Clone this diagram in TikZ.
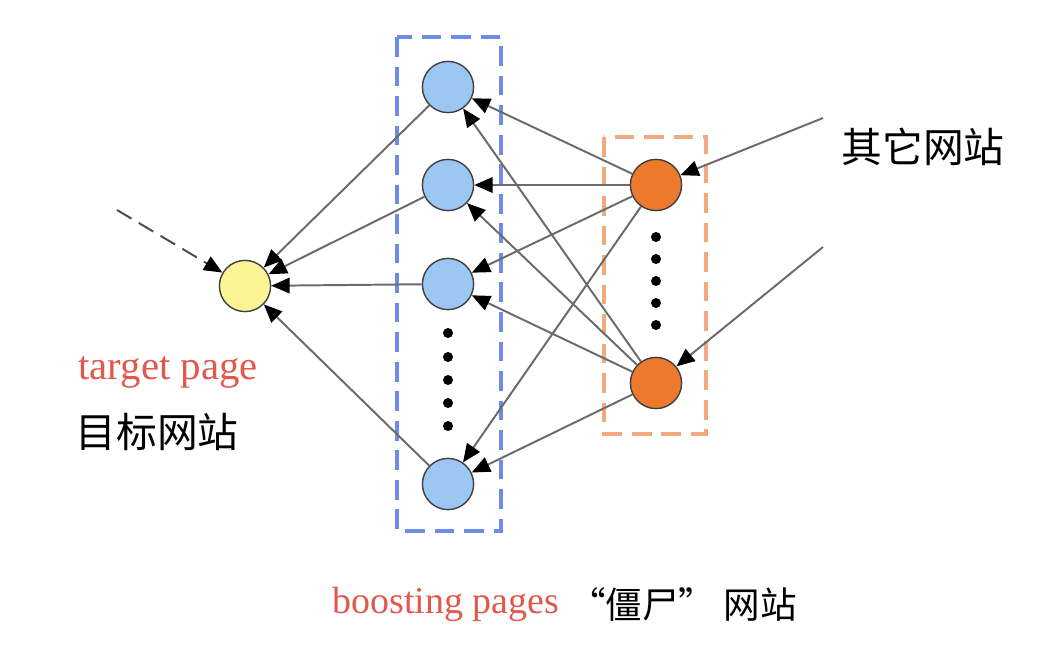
\documentclass[tikz,border=0pt]{standalone}
\usepackage{fontspec}
\setmainfont{Liberation Serif}
\newfontfamily\cjk{Noto Sans CJK SC}
\usetikzlibrary{arrows.meta}
\definecolor{boostblue}{RGB}{158,198,242}
\definecolor{zombieorange}{RGB}{237,122,44}
\definecolor{targetyellow}{RGB}{252,244,150}
\definecolor{boxblue}{RGB}{110,140,230}
\definecolor{boxorange}{RGB}{240,170,125}
\definecolor{labelred}{RGB}{226,88,76}
\begin{document}
\begin{tikzpicture}[x=0.025cm,y=-0.025cm,
  page/.style={circle,draw=black!75,line width=1pt,minimum size=1.28cm,inner sep=0pt},
  link/.style={draw=black!58,line width=1.4pt,-{Triangle[length=13pt,width=11pt,color=black]}},
  group/.style={line width=2.6pt,dash pattern=on 14pt off 7pt},
  redlabel/.style={text=labelred,font=\fontsize{29}{32}\selectfont},
  cnlabel/.style={font=\cjk\fontsize{29}{32}\selectfont}]
\useasboundingbox (0,0) rectangle (1040,660);
\draw [group,boxblue] (397,37) rectangle (501,531);
\draw [group,boxorange] (604,137) rectangle (706,434);
\node [page,fill=targetyellow] (t) at (245,286) {};
\node [page,fill=boostblue] (b1) at (448,87) {};
\node [page,fill=boostblue] (b2) at (448,185) {};
\node [page,fill=boostblue] (b3) at (448,284) {};
\node [page,fill=boostblue] (b4) at (448,484) {};
\node [page,fill=zombieorange] (z1) at (656,185) {};
\node [page,fill=zombieorange] (z2) at (656,383) {};
\fill (448,333) circle (5);
\fill (448,357) circle (5);
\fill (448,380) circle (5);
\fill (448,403) circle (5);
\fill (448,426) circle (5);
\fill (656,237) circle (5);
\fill (656,259) circle (5);
\fill (656,281) circle (5);
\fill (656,303) circle (5);
\fill (656,325) circle (5);
\coordinate (in0) at (117,210);
\coordinate (in1) at (823,118);
\coordinate (in2) at (823,247);
\draw [link,draw=black!70,dash pattern=on 12pt off 6pt] (in0) -- (t);
\draw [link] (b1) -- (t);
\draw [link] (b2) -- (t);
\draw [link] (b3) -- (t);
\draw [link] (b4) -- (t);
\draw [link] (z1) -- (b1);
\draw [link] (z1) -- (b2);
\draw [link] (z1) -- (b3);
\draw [link] (z1) -- (b4);
\draw [link] (z2) -- (b1);
\draw [link] (z2) -- (b2);
\draw [link] (z2) -- (b3);
\draw [link] (z2) -- (b4);
\draw [link] (in1) -- (z1);
\draw [link] (in2) -- (z2);
\node [redlabel] (tp) at (168,372) {target page};
\node [cnlabel] (tcn) at (157,432) {目标网站};
\node [cnlabel] (ocn) at (923,147) {其它网站};
\node [redlabel,font=\fontsize{27}{30}\selectfont] (bp) at (446,604) {boosting pages};
\node [cnlabel,font=\cjk\fontsize{26}{30}\selectfont] (zcn) at (683,604) {“僵尸” 网站};
\end{tikzpicture}
\end{document}
